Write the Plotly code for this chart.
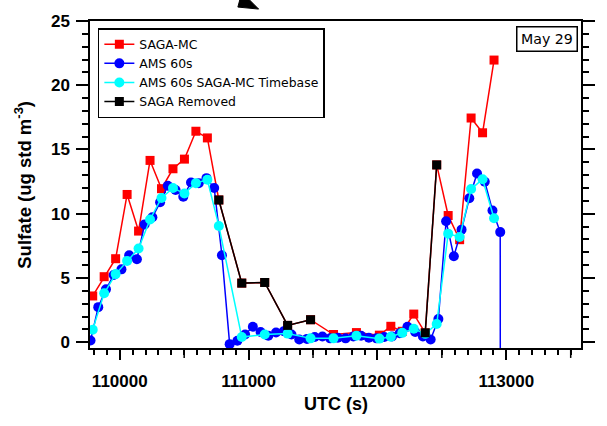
import plotly.graph_objects as go

# ---------------- data ----------------
# AMS 60 s time base (UTC seconds) and sulfate values
ams_t = [109773, 109833, 109893, 109953, 110013, 110073, 110133, 110193, 110253, 110313,
         110373, 110433, 110493, 110553, 110613, 110673, 110733, 110793, 110853, 110913,
         110973, 111033, 111093, 111153, 111213, 111273, 111333, 111393, 111453, 111513,
         111573, 111633, 111693, 111753, 111813, 111873, 111933, 111993, 112053, 112113,
         112173, 112233, 112293, 112353, 112413, 112473, 112533, 112593, 112653, 112713,
         112773, 112833, 112893, 112953, 113013]
ams_v = [0.13, 2.73, 4.12, 5.23, 5.67, 6.77, 6.46, 9.17, 9.73, 10.89,
         12.18, 11.85, 11.33, 12.43, 12.38, 12.77, 12.0, 6.77, -0.15, 0.12,
         0.6, 1.2, 0.8, 0.5, 0.75, 0.85, 0.6, 0.21, 0.26, 0.4,
         0.45, 0.3, 0.35, 0.3, 0.45, 0.5, 0.35, 0.3, 0.4, 0.45,
         0.7, 1.2, 0.8, 0.45, 0.21, 1.81, 9.42, 6.69, 8.76, 11.2,
         13.13, 12.49, 10.25, 8.57, -999]

# SAGA-MC time base
saga_t = [109790, 109879, 109968, 110057, 110146, 110235, 110324, 110413, 110502, 110591,
          110680, 110769, 110947, 111125, 111303, 111481, 111659, 111837, 112015, 112104,
          112193, 112282, 112371, 112460, 112549, 112638, 112727, 112816, 112905]
saga_v = [3.6, 5.1, 6.5, 11.5, 8.65, 14.15, 11.95, 13.5, 14.25, 16.42,
          15.9, 11.07, 4.6, 4.65, 1.31, 1.75, 0.6, 0.75, 0.55, 1.24,
          0.85, 2.19, 0.73, 13.8, 9.86, 7.98, 17.45, 16.3, 21.96]
ams_on_saga_v = [0.98, 3.81, 5.3, 6.33, 7.29, 9.55, 11.23, 12.0, 11.58, 12.38,
                 12.64, 9.05, 0.4, 0.6, 0.67, 0.3, 0.3, 0.5, 0.28, 0.42,
                 0.73, 1.05, 0.65, 1.42, 8.45, 8.19, 11.92, 12.69, 9.65]
removed_v = [None, None, None, None, None, None, None, None, None, None,
             None, 11.07, 4.6, 4.65, 1.31, 1.75, None, None, None, None,
             None, None, 0.73, 13.8, None, None, None, None, None]

x_major = [110000, 111000, 112000, 113000]
x_labels = ["110000", "111000", "112000", "113000"]
x_medium = [110500, 111500, 112500, 113500]
y_tickvals = [0, 5, 10, 15, 20, 25]

FONT = "Liberation Sans"
LFONT = "DejaVu Sans"
LW = 1.5

fig = go.Figure()
fig.add_trace(go.Scatter(x=saga_t, y=saga_v, name="SAGA-MC", mode="lines+markers",
                         line=dict(color="#ff0000", width=LW),
                         marker=dict(symbol="square", size=9, color="#ff0000")))
fig.add_trace(go.Scatter(x=ams_t, y=ams_v, name="AMS 60s", mode="lines+markers",
                         line=dict(color="#0000ff", width=LW),
                         marker=dict(symbol="circle", size=10, color="#0000ff")))
fig.add_trace(go.Scatter(x=saga_t, y=ams_on_saga_v, name="AMS 60s SAGA-MC Timebase",
                         mode="lines+markers",
                         line=dict(color="#00ffff", width=LW),
                         marker=dict(symbol="circle", size=10, color="#00ffff")))
fig.add_trace(go.Scatter(x=saga_t, y=removed_v, name="SAGA Removed", mode="lines+markers",
                         connectgaps=False,
                         line=dict(color="#000000", width=LW),
                         marker=dict(symbol="square", size=9, color="#000000")))

# plot area geometry (px) for paper conversions
PL, PR, PT, PB = 90, 588, 19, 348
def px_x(p):
    return (p - PL) / (PR - PL)
def px_y(p):
    return (PB - p) / (PB - PT)

shapes = []
# medium x ticks (half-way between labelled ticks)
for xv in x_medium:
    shapes.append(dict(type="line", xref="x", yref="paper", x0=xv, x1=xv,
                       y0=0, y1=-10 / (PB - PT), line=dict(color="black", width=1.5)))
# arrowhead poking in at the top edge (pointing down-right)
pts = [(261, 7), (240, 5), (244, -10)]
path = "M " + " L ".join(f"{px_x(a):.4f},{px_y(b):.4f}" for a, b in pts) + " Z"
shapes.append(dict(type="path", xref="paper", yref="paper", path=path,
                   fillcolor="black", line=dict(color="black", width=1)))

fig.update_layout(
    width=607, height=426,
    margin=dict(l=PL, r=607 - PR, t=PT, b=426 - PB),
    paper_bgcolor="white", plot_bgcolor="white",
    font=dict(family=FONT, color="black"),
    showlegend=True,
    legend=dict(x=0.016, y=0.978, xanchor="left", yanchor="top",
                bordercolor="black", borderwidth=1.5, bgcolor="white",
                font=dict(family=LFONT, size=12.4), tracegroupgap=0,
                itemwidth=30),
    xaxis=dict(range=[109769, 113580], tickvals=x_major, ticktext=x_labels,
               ticks="outside", ticklen=10, tickwidth=1.5, tickcolor="black",
               minor=dict(dtick=100, tick0=0, ticks="outside", ticklen=5,
                          tickwidth=1.5, tickcolor="black"),
               showline=True, linecolor="black", linewidth=1.5, mirror=True,
               showgrid=False, zeroline=False,
               tickfont=dict(family=FONT, size=17, color="black", weight="bold"),
               ticklabelstandoff=7),
    yaxis=dict(range=[-0.45, 25], tickvals=y_tickvals,
               ticks="outside", ticklen=12, tickwidth=1.5, tickcolor="black",
               minor=dict(dtick=1, tick0=0, ticks="outside", ticklen=6,
                          tickwidth=1.5, tickcolor="black"),
               showline=True, linecolor="black", linewidth=1.5, mirror="ticks",
               showgrid=False, zeroline=False,
               tickfont=dict(family=FONT, size=17, color="black", weight="bold"),
               ticklabelstandoff=3),
    shapes=shapes,
    annotations=[
        dict(text="Sulfate (ug std m<sup>-3</sup>)", xref="paper", yref="paper",
             x=-0.138, y=0.5, textangle=-90, showarrow=False,
             font=dict(family=FONT, size=18.5, color="black", weight="bold"),
             xanchor="center", yanchor="middle"),
        dict(text="UTC (s)", xref="paper", yref="paper", x=0.5, y=-0.172,
             showarrow=False, xanchor="center", yanchor="middle",
             font=dict(family=FONT, size=18, color="black", weight="bold")),
        dict(text="May 29", xref="paper", yref="paper", x=0.994, y=0.985,
             xanchor="right", yanchor="top", showarrow=False,
             bordercolor="black", borderwidth=1.5, borderpad=3.5, bgcolor="white",
             font=dict(family=LFONT, size=14.2, color="black")),
    ],
)

fig.write_html("out.html")
